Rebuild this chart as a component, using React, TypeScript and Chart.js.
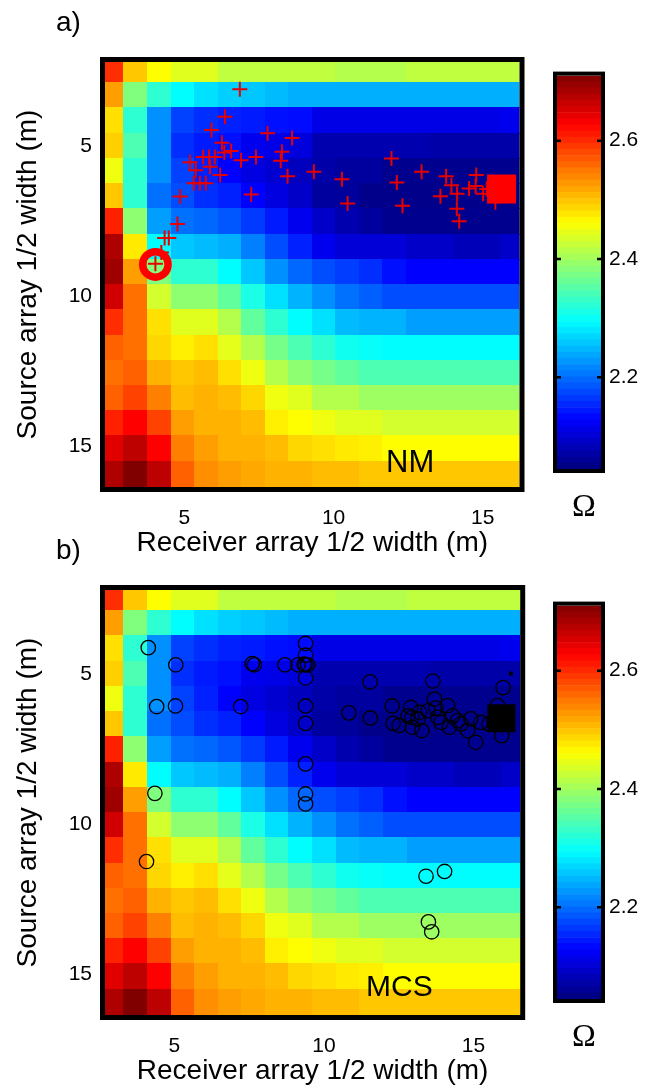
import React, { useEffect, useRef } from "react";
import { Chart, registerables } from "chart.js";

Chart.register(...registerables);

// ---------- data ----------
// cell centres of the grid (m)
const receiverWidths = [2.58, 3.37, 4.16, 4.95, 5.74, 6.52, 7.31, 8.10, 8.89, 9.68, 10.47, 11.26, 12.05, 12.84, 13.63, 14.42, 15.20, 15.99];
const sourceWidths = [2.48, 3.32, 4.16, 5.00, 5.84, 6.68, 7.52, 8.36, 9.20, 10.04, 10.88, 11.72, 12.56, 13.40, 14.24, 15.08, 15.92];

// Omega value per cell: one row per source width, one column per receiver width
const omegaGrid = [
  [2.597, 2.497, 2.461, 2.441, 2.441, 2.419, 2.419, 2.419, 2.419, 2.419, 2.411, 2.411, 2.411, 2.419, 2.419, 2.419, 2.419, 2.419],
  [2.524, 2.378, 2.324, 2.294, 2.274, 2.264, 2.258, 2.251, 2.243, 2.243, 2.243, 2.243, 2.243, 2.243, 2.243, 2.243, 2.243, 2.243],
  [2.481, 2.324, 2.222, 2.171, 2.158, 2.149, 2.145, 2.138, 2.135, 2.112, 2.112, 2.112, 2.112, 2.112, 2.112, 2.112, 2.112, 2.118],
  [2.491, 2.344, 2.222, 2.158, 2.145, 2.138, 2.118, 2.112, 2.105, 2.076, 2.076, 2.076, 2.076, 2.076, 2.072, 2.072, 2.072, 2.072],
  [2.451, 2.324, 2.222, 2.171, 2.149, 2.128, 2.108, 2.098, 2.085, 2.072, 2.065, 2.065, 2.055, 2.055, 2.055, 2.055, 2.055, 2.055],
  [2.497, 2.324, 2.201, 2.178, 2.158, 2.149, 2.128, 2.108, 2.092, 2.065, 2.062, 2.052, 2.052, 2.052, 2.052, 2.052, 2.052, 2.052],
  [2.606, 2.387, 2.231, 2.201, 2.195, 2.185, 2.165, 2.145, 2.118, 2.092, 2.075, 2.065, 2.055, 2.055, 2.055, 2.055, 2.055, 2.055],
  [2.679, 2.474, 2.294, 2.258, 2.251, 2.243, 2.211, 2.178, 2.149, 2.118, 2.102, 2.102, 2.102, 2.092, 2.092, 2.082, 2.082, 2.092],
  [2.690, 2.524, 2.378, 2.324, 2.324, 2.294, 2.258, 2.222, 2.195, 2.178, 2.168, 2.158, 2.138, 2.128, 2.128, 2.128, 2.128, 2.128],
  [2.657, 2.554, 2.431, 2.387, 2.387, 2.358, 2.311, 2.274, 2.245, 2.222, 2.201, 2.191, 2.178, 2.178, 2.178, 2.178, 2.178, 2.178],
  [2.597, 2.554, 2.481, 2.441, 2.441, 2.411, 2.358, 2.324, 2.294, 2.274, 2.251, 2.245, 2.245, 2.231, 2.231, 2.231, 2.231, 2.231],
  [2.564, 2.554, 2.487, 2.471, 2.481, 2.444, 2.411, 2.371, 2.344, 2.324, 2.304, 2.298, 2.294, 2.294, 2.294, 2.294, 2.294, 2.294],
  [2.554, 2.564, 2.511, 2.497, 2.504, 2.481, 2.451, 2.411, 2.387, 2.371, 2.358, 2.344, 2.344, 2.344, 2.344, 2.344, 2.344, 2.344],
  [2.564, 2.584, 2.544, 2.504, 2.511, 2.504, 2.487, 2.451, 2.441, 2.411, 2.411, 2.397, 2.397, 2.397, 2.397, 2.397, 2.397, 2.397],
  [2.606, 2.627, 2.584, 2.524, 2.511, 2.511, 2.504, 2.471, 2.461, 2.451, 2.441, 2.441, 2.431, 2.431, 2.431, 2.431, 2.431, 2.431],
  [2.647, 2.670, 2.627, 2.544, 2.524, 2.511, 2.511, 2.504, 2.487, 2.481, 2.474, 2.471, 2.461, 2.461, 2.461, 2.461, 2.461, 2.461],
  [2.679, 2.710, 2.670, 2.564, 2.534, 2.524, 2.517, 2.511, 2.511, 2.504, 2.504, 2.497, 2.497, 2.497, 2.497, 2.497, 2.497, 2.497],
];

const omegaMin = 2.045;
const omegaMax = 2.71;

const xTicks = [5, 10, 15];
const yTicks = [5, 10, 15];
const cbTicks = [2.2, 2.4, 2.6];

// NM iterations (red crosses)
const nmX = [6.86, 6.36, 5.91, 7.79, 8.61, 6.26, 6.57, 6.34, 8.27, 5.63, 5.83, 6.02, 6.90, 7.40, 8.23, 5.19, 5.38, 5.86, 6.20, 8.46, 5.32, 5.52, 5.72, 7.24, 4.86, 4.77, 4.34, 4.48, 4.03, 9.34, 10.28, 10.47, 11.94, 12.12, 12.31, 12.95, 13.77, 13.95, 13.58, 14.14, 14.13, 14.21, 14.54, 14.78, 14.76, 15.01, 15.13, 15.42, 15.80, 4.23];
const nmY = [3.12, 4.03, 4.47, 4.58, 4.74, 4.90, 5.17, 5.22, 5.20, 5.37, 5.37, 5.37, 5.48, 5.37, 5.50, 5.55, 5.81, 5.70, 5.97, 6.01, 6.25, 6.25, 6.25, 6.62, 6.69, 7.60, 8.07, 8.07, 8.93, 5.86, 6.11, 6.92, 5.42, 6.22, 7.00, 5.86, 6.01, 6.31, 6.68, 6.60, 7.10, 7.51, 6.42, 5.97, 6.34, 6.60, 6.44, 6.88, 6.50, 8.55];
const nmStartX = [4.03];
const nmStartY = [8.95];
const nmEndX = [15.63];
const nmEndY = [6.44];

// MCS samples (black circles)
const mcsX = [3.79, 4.71, 4.07, 4.70, 6.88, 7.27, 7.34, 8.36, 8.80, 9.00, 9.04, 9.12, 9.05, 9.05, 9.05, 9.05, 9.05, 9.05, 9.05, 9.05, 4.01, 3.73, 13.08, 13.70, 13.16, 13.27, 11.21, 13.31, 10.50, 11.22, 11.95, 11.98, 12.18, 12.57, 12.61, 12.62, 12.94, 12.86, 13.14, 13.36, 13.41, 13.47, 13.58, 13.80, 13.86, 13.97, 14.14, 14.25, 14.47, 14.58, 14.74, 14.91, 15.19, 15.47, 15.66, 15.61, 15.36, 12.48, 12.81];
const mcsY = [4.13, 4.70, 6.09, 6.07, 6.09, 4.66, 4.70, 4.70, 4.70, 4.68, 4.70, 4.70, 3.99, 4.38, 5.14, 6.07, 6.65, 8.00, 9.00, 9.33, 8.98, 11.25, 11.74, 11.58, 13.26, 13.59, 5.27, 5.24, 6.30, 6.47, 6.07, 6.65, 6.72, 6.12, 6.45, 6.78, 6.89, 6.28, 6.23, 5.84, 6.14, 6.45, 6.62, 6.06, 6.78, 6.40, 6.56, 6.67, 6.89, 6.50, 7.28, 6.62, 6.67, 6.06, 5.46, 7.06, 6.62, 6.40, 6.51];
const mcsEndX = [15.6];
const mcsEndY = [6.48];
const mcsDotX = [15.92];
const mcsDotY = [4.99];

// ---------- helpers ----------
const FONT = "'Liberation Sans', Arial, Helvetica, sans-serif";
const clamp = (v: number) => Math.max(0, Math.min(1, v));
function jet(t: number): string {
  const r = clamp(1.5 - Math.abs(4 * t - 3));
  const g = clamp(1.5 - Math.abs(4 * t - 2));
  const b = clamp(1.5 - Math.abs(4 * t - 1));
  return `rgb(${Math.round(r * 255)},${Math.round(g * 255)},${Math.round(b * 255)})`;
}
const colorFor = (v: number) => jet((v - omegaMin) / (omegaMax - omegaMin));

function edges(c: number[], i: number): [number, number] {
  const n = c.length;
  const lo = i > 0 ? (c[i - 1] + c[i]) / 2 : c[0] - (c[1] - c[0]) / 2;
  const hi = i < n - 1 ? (c[i] + c[i + 1]) / 2 : c[n - 1] + (c[n - 1] - c[n - 2]) / 2;
  return [lo, hi];
}

const heatmapPlugin = {
  id: "heatmap",
  beforeDatasetsDraw(chart: any) {
    const { ctx, chartArea: a, scales } = chart;
    const xs = scales.x, ys = scales.y;
    ctx.save();
    ctx.beginPath();
    ctx.rect(a.left, a.top, a.right - a.left, a.bottom - a.top);
    ctx.clip();
    for (let r = 0; r < sourceWidths.length; r++) {
      const [y0, y1] = edges(sourceWidths, r);
      const py0 = ys.getPixelForValue(y0), py1 = ys.getPixelForValue(y1);
      for (let c = 0; c < receiverWidths.length; c++) {
        const [x0, x1] = edges(receiverWidths, c);
        const px0 = xs.getPixelForValue(x0), px1 = xs.getPixelForValue(x1);
        ctx.fillStyle = colorFor(omegaGrid[r][c]);
        const top = Math.min(py0, py1), bot = Math.max(py0, py1);
        ctx.fillRect(Math.floor(px0), Math.floor(top), Math.ceil(px1) - Math.floor(px0), Math.ceil(bot) - Math.floor(top));
      }
    }
    ctx.restore();
  },
  afterDraw(chart: any) {
    const { ctx, chartArea: a } = chart;
    ctx.save();
    ctx.strokeStyle = "#000";
    ctx.lineWidth = 5;
    ctx.strokeRect(a.left - 2.5, a.top - 2.5, a.right - a.left + 5, a.bottom - a.top + 5);
    ctx.restore();
  },
};

const colorbarPlugin = {
  id: "cbframe",
  afterDraw(chart: any) {
    const { ctx, chartArea: a, scales } = chart;
    ctx.save();
    ctx.strokeStyle = "#000";
    ctx.lineWidth = 4;
    ctx.strokeRect(a.left - 2, a.top - 2, a.right - a.left + 4, a.bottom - a.top + 4);
    ctx.lineWidth = 2.5;
    for (const t of cbTicks) {
      const y = scales.y.getPixelForValue(t);
      ctx.beginPath();
      ctx.moveTo(a.left, y);
      ctx.lineTo(a.left + 4, y);
      ctx.moveTo(a.right, y);
      ctx.lineTo(a.right - 4, y);
      ctx.stroke();
    }
    ctx.restore();
  },
};

const pts = (xs: number[], ys: number[]) => xs.map((x, i) => ({ x, y: ys[i] }));

function panelConfig(datasets: any[], xLabelOffset: number) {
  return {
    type: "scatter",
    data: { datasets },
    plugins: [heatmapPlugin],
    options: {
      animation: false,
      responsive: false,
      maintainAspectRatio: false,
      events: [],
      layout: { padding: { top: 62, right: 17, left: 0, bottom: 0 } },
      plugins: { legend: { display: false }, tooltip: { enabled: false } },
      scales: {
        x: {
          type: "linear",
          min: 2.342,
          max: 16.23,
          afterBuildTicks: (s: any) => { s.ticks = xTicks.map((v) => ({ value: v })); },
          afterFit: (s: any) => { s.height = 73; },
          grid: { display: false, drawTicks: false },
          border: { display: false },
          ticks: { color: "#000", font: { family: FONT, size: 21 }, padding: 19, labelOffset: xLabelOffset, maxRotation: 0 },
          title: { display: true, text: "Receiver array 1/2 width (m)", color: "#000", font: { family: FONT, size: 28 }, padding: { top: 0, bottom: 0 } },
        },
        y: {
          type: "linear",
          reverse: true,
          min: 2.21,
          max: 16.36,
          afterBuildTicks: (s: any) => { s.ticks = yTicks.map((v) => ({ value: v })); },
          afterFit: (s: any) => { s.width = 105; },
          grid: { display: false, drawTicks: false },
          border: { display: false },
          ticks: { color: "#000", font: { family: FONT, size: 21 }, padding: 13 },
          title: { display: true, text: "Source array 1/2 width (m)", color: "#000", font: { family: FONT, size: 28 }, padding: { top: 11, bottom: 0 } },
        },
      },
    },
  };
}

function colorbarConfig() {
  const n = 64;
  const datasets = [];
  for (let i = 0; i < n; i++) {
    const lo = omegaMin + ((omegaMax - omegaMin) * i) / n;
    const hi = omegaMin + ((omegaMax - omegaMin) * (i + 1)) / n;
    datasets.push({
      data: [[lo, hi]],
      backgroundColor: jet((i + 0.5) / n),
      borderWidth: 0,
      grouped: false,
      barPercentage: 1,
      categoryPercentage: 1,
    });
  }
  return {
    type: "bar",
    data: { labels: [""], datasets },
    plugins: [colorbarPlugin],
    options: {
      animation: false,
      responsive: false,
      maintainAspectRatio: false,
      events: [],
      layout: { padding: { left: 17, top: 17, bottom: 66, right: 0 } },
      plugins: { legend: { display: false }, tooltip: { enabled: false } },
      scales: {
        x: { display: false },
        y: {
          position: "right",
          min: omegaMin,
          max: omegaMax,
          afterBuildTicks: (s: any) => { s.ticks = cbTicks.map((v) => ({ value: v })); },
          afterFit: (s: any) => { s.width = 46; },
          grid: { display: false, drawTicks: false },
          border: { display: false },
          ticks: { color: "#000", font: { family: FONT, size: 21 }, padding: 8, callback: (v: any) => Number(v).toFixed(1) },
        },
      },
    },
  };
}

function ChartCanvas({ config, left, top, width, height }: any) {
  const ref = useRef<HTMLCanvasElement | null>(null);
  useEffect(() => {
    if (!ref.current) return;
    const chart = new Chart(ref.current, config());
    return () => chart.destroy();
  }, []);
  return (
    <canvas
      ref={ref}
      width={width}
      height={height}
      style={{ position: "absolute", left, top, width, height }}
    />
  );
}

const textStyle = (left: number, top: number, size: number, family = FONT): React.CSSProperties => ({
  position: "absolute",
  left,
  top,
  fontFamily: family,
  fontSize: size,
  lineHeight: 1,
  color: "#000",
  whiteSpace: "nowrap",
});

export default function App() {
  const nmDatasets = () => [
    { data: pts(nmEndX, nmEndY), pointStyle: "rect", radius: 20.5, backgroundColor: "rgb(255,0,0)", borderColor: "rgb(255,0,0)", borderWidth: 0, order: 0 },
    { data: pts(nmStartX, nmStartY), pointStyle: "circle", radius: 12.7, backgroundColor: "rgba(0,0,0,0)", borderColor: "rgb(255,0,0)", borderWidth: 7.5, order: 1 },
    { data: pts(nmX, nmY), pointStyle: "cross", radius: 7.5, borderColor: "rgb(230,0,0)", borderWidth: 2, order: 2 },
  ];
  const mcsDatasets = () => [
    { data: pts(mcsEndX, mcsEndY), pointStyle: "rect", radius: 19.8, backgroundColor: "#000", borderColor: "#000", borderWidth: 0, order: 0 },
    { data: pts(mcsDotX, mcsDotY), pointStyle: "rect", radius: 2.8, backgroundColor: "#000", borderColor: "#000", borderWidth: 0, order: 1 },
    { data: pts(mcsX, mcsY), pointStyle: "circle", radius: 7.2, backgroundColor: "rgba(0,0,0,0)", borderColor: "#000", borderWidth: 1.3, order: 2 },
  ];

  return (
    <div style={{ position: "absolute", left: 0, top: 0, width: 647, height: 1091, background: "#fff", overflow: "hidden" }}>
      <ChartCanvas config={() => panelConfig(nmDatasets(), 0)} left={0} top={0} width={540} height={560} />
      <ChartCanvas config={() => panelConfig(mcsDatasets(), -10)} left={0} top={528} width={540} height={560} />
      <ChartCanvas config={() => colorbarConfig()} left={540} top={55} width={107} height={480} />
      <ChartCanvas config={() => colorbarConfig()} left={540} top={585} width={107} height={480} />
      <div style={textStyle(56, 8, 28)}>a)</div>
      <div style={textStyle(56, 536, 28)}>b)</div>
      <div style={textStyle(386, 446, 31)}>NM</div>
      <div style={textStyle(366, 971, 30)}>MCS</div>
      <div style={textStyle(572, 489, 32, "'Liberation Serif', 'Times New Roman', serif")}>Ω</div>
      <div style={textStyle(572, 1019, 32, "'Liberation Serif', 'Times New Roman', serif")}>Ω</div>
    </div>
  );
}
